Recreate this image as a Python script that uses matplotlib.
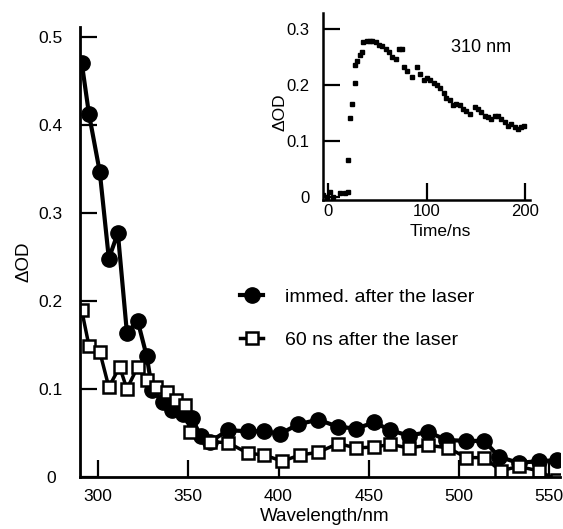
import matplotlib.pyplot as plt

plt.rcParams["font.family"] = ["Liberation Sans", "DejaVu Sans"]

# main spectra (wavelength in nm, delta OD)
wl_immed = [291, 295, 301, 306, 311, 316, 322, 327, 330, 336, 341, 347, 352, 357,
            362, 372, 383, 392, 401, 411, 422, 433, 443, 453, 462, 472, 483, 493,
            504, 514, 522, 533, 544, 554]
od_immed = [0.470, 0.412, 0.346, 0.248, 0.277, 0.164, 0.177, 0.137, 0.099, 0.085,
            0.076, 0.071, 0.067, 0.046, 0.040, 0.053, 0.052, 0.052, 0.049, 0.060,
            0.065, 0.057, 0.055, 0.062, 0.053, 0.047, 0.051, 0.042, 0.041, 0.041,
            0.023, 0.016, 0.018, 0.019]

wl_60ns = [291, 295, 301, 306, 312, 316, 322, 327, 332, 338, 343, 348, 351, 362,
           372, 383, 392, 402, 412, 422, 433, 443, 453, 462, 472, 483, 494, 504,
           514, 523, 533, 544, 554]
od_60ns = [0.189, 0.149, 0.142, 0.102, 0.125, 0.100, 0.125, 0.110, 0.102, 0.096,
           0.087, 0.082, 0.051, 0.040, 0.039, 0.027, 0.025, 0.018, 0.025, 0.028,
           0.038, 0.033, 0.034, 0.037, 0.033, 0.036, 0.033, 0.022, 0.022, 0.007,
           0.012, 0.007, -0.003]

# inset kinetic trace at 310 nm
t_ns = [-5, -1, 2, 5, 12, 17, 20, 20, 22, 24, 27, 27, 29, 32, 34, 35, 39, 42, 45,
        49, 52, 55, 59, 62, 65, 69, 72, 75, 77, 80, 85, 90, 93, 97, 100, 103, 107,
        110, 113, 117, 120, 124, 127, 130, 134, 137, 140, 144, 149, 152, 155, 159,
        162, 165, 169, 172, 175, 179, 182, 185, 189, 192, 196, 199]
od_t = [0.004, 0.001, 0.010, 0.000, 0.007, 0.008, 0.009, 0.067, 0.142, 0.166,
        0.205, 0.236, 0.243, 0.254, 0.260, 0.277, 0.279, 0.279, 0.279, 0.278,
        0.273, 0.271, 0.265, 0.259, 0.250, 0.247, 0.265, 0.265, 0.232, 0.225,
        0.215, 0.232, 0.220, 0.210, 0.213, 0.210, 0.205, 0.200, 0.195, 0.186,
        0.178, 0.173, 0.164, 0.167, 0.164, 0.158, 0.155, 0.149, 0.161, 0.158,
        0.152, 0.146, 0.143, 0.140, 0.146, 0.146, 0.140, 0.134, 0.128, 0.131,
        0.125, 0.122, 0.125, 0.128]

fig = plt.figure(figsize=(5.63, 5.29), dpi=100)
ax = fig.add_axes([0.142, 0.0983, 0.853, 0.851])

ax.plot(wl_immed, od_immed, color="black", lw=3, marker="o", ms=11,
        mfc="black", mec="black", label="immed. after the laser")
ax.plot(wl_60ns, od_60ns, color="black", lw=2.5, marker="s", ms=9,
        mfc="white", mec="black", mew=1.8, label="60 ns after the laser")

ax.set_xlim(290, 556)
ax.set_ylim(0, 0.511)
ax.set_xticks([300, 350, 400, 450, 500, 550])
ax.set_yticks([0, 0.1, 0.2, 0.3, 0.4, 0.5])
ax.set_yticklabels(["0", "0.1", "0.2", "0.3", "0.4", "0.5"])
for s in ["top", "right"]:
    ax.spines[s].set_visible(False)
for s in ["left", "bottom"]:
    ax.spines[s].set_linewidth(2)
ax.tick_params(axis="both", direction="in", length=12, width=1.6, labelsize=12.5)
ax.tick_params(axis="x", pad=9)
ax.tick_params(axis="y", pad=21)
for lbl in ax.get_yticklabels():
    lbl.set_ha("center")

ax.set_xlabel("Wavelength/nm", fontsize=13.5)
ax.xaxis.set_label_coords(0.51, -0.068)
ax.set_ylabel("ΔOD", fontsize=13.5)
ax.yaxis.set_label_coords(-0.098, 0.478)

ax.legend(loc="center left", bbox_to_anchor=(0.426, 0.398),
          bbox_transform=fig.transFigure, frameon=False, fontsize=14,
          handlelength=1.2, handletextpad=1.1, labelspacing=1.3,
          borderpad=0, borderaxespad=0)

# inset
axin = fig.add_axes([0.574, 0.622, 0.368, 0.354])
axin.plot(t_ns, od_t, ls="none", marker="s", ms=3.5, color="black")
axin.set_xlim(-5, 205)
axin.set_ylim(-0.005, 0.33)
axin.set_xticks([0, 100, 200])
axin.set_yticks([0, 0.1, 0.2, 0.3])
axin.set_yticklabels(["0", "0.1", "0.2", "0.3"])
for s in ["top", "right"]:
    axin.spines[s].set_visible(False)
for s in ["left", "bottom"]:
    axin.spines[s].set_linewidth(1.8)
axin.tick_params(axis="both", direction="in", length=12, width=1.6, labelsize=12)
axin.tick_params(axis="x", pad=3)
axin.tick_params(axis="y", pad=10)
axin.set_xlabel("Time/ns", fontsize=12.5)
axin.xaxis.set_label_coords(0.565, -0.13)
axin.set_ylabel("ΔOD", fontsize=12.5)
axin.yaxis.set_label_coords(-0.174, 0.47)
axin.text(125, 0.268, "310 nm", fontsize=13, va="center", ha="left")

fig.savefig("out.png", dpi=100)
